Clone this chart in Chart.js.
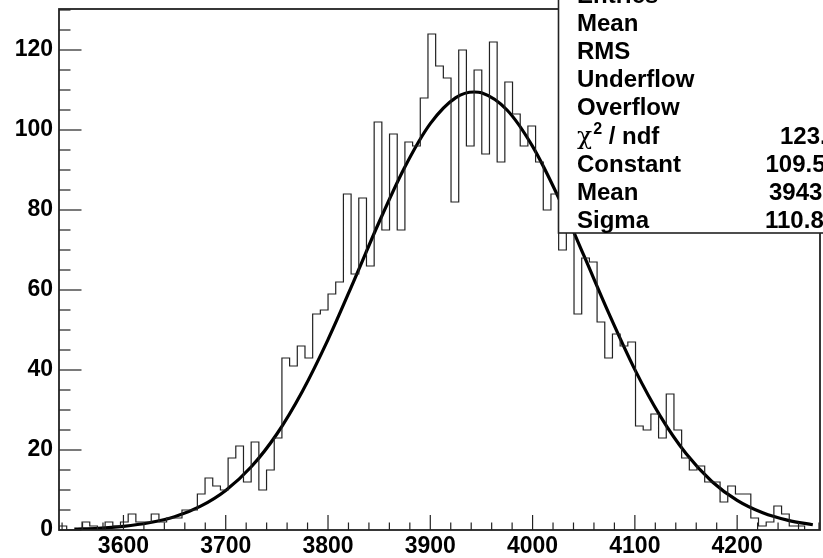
<!DOCTYPE html>
<html>
<head>
<meta charset="utf-8">
<script src="https://cdn.jsdelivr.net/npm/chart.js@4.4.1/dist/chart.umd.min.js"></script>
<style>
  html, body { margin: 0; padding: 0; background: #fff; }
  #wrap { width: 823px; height: 558px; position: relative; }
</style>
</head>
<body>
<div id="wrap"><canvas id="chart"></canvas></div>
<script>
// histogram: 99 bins between xMin and xMax
const xMin = 3537;
const xMax = 4281;
const binCounts = [
  0, 1, 0, 0, 2, 1, 0, 2, 1, 2,
  4, 2, 2, 4, 2, 3, 3, 5, 5, 9,
  13, 11, 10, 18, 21, 12, 22, 10, 15, 23,
  43, 41, 46, 43, 54, 55, 59, 62, 84, 64,
  83, 66, 102, 75, 99, 75, 97, 96, 108, 124,
  116, 113, 82, 120, 96, 115, 94, 122, 92, 112,
  104, 96, 101, 92, 80, 84, 70, 76, 54, 68,
  67, 52, 43, 49, 46, 47, 26, 25, 29, 23,
  34, 25, 18, 15, 16, 12, 12, 7, 11, 9,
  9, 3, 1, 2, 6, 4, 1, 1, 0
];

// gaussian fit curve
const fitX = [3552, 3575, 3600, 3625, 3650, 3675, 3700, 3725, 3750, 3775, 3800, 3825, 3850, 3875, 3900, 3925, 3943,
  3950, 3975, 4000, 4025, 4050, 4075, 4100, 4125, 4150, 4175, 4200, 4225, 4250, 4274];
const fitY = [0.2, 0.4, 0.9, 1.8, 3.3, 5.9, 9.9, 15.8, 24.0, 34.7, 47.6, 62.1, 77.0, 90.7, 101.6, 108.1, 109.5,
  109.3, 105.0, 95.9, 83.3, 68.7, 53.9, 40.1, 28.4, 19.1, 12.2, 7.4, 4.3, 2.4, 1.3];

const yMax = 130.25;
const xTickStep = 100;
const yTickStep = 20;

// stats box (values are cut off by the right edge)
const statLabels = ['Entries', 'Mean', 'RMS', 'Underflow', 'Overflow', 'χ2 / ndf', 'Constant', 'Mean', 'Sigma'];
const statValues = ['', '', '', '', '', '123.4', '109.5', '3943', '110.8'];
const statValueX = [0, 0, 0, 0, 0, 780, 765.5, 769, 765];

const fontFamily = '"Liberation Sans", Arial, Helvetica, sans-serif';

const binWidth = (xMax - xMin) / binCounts.length;
let histPoints = binCounts.map((c, i) => ({x: xMin + i * binWidth, y: c}));
histPoints.push({x: xMax, y: binCounts[binCounts.length - 1]});

const fitPoints = fitX.map((v, i) => ({x: v, y: fitY[i]}));

function line(ctx, x1, y1, x2, y2) {
  ctx.beginPath();
  ctx.moveTo(x1, y1);
  ctx.lineTo(x2, y2);
  ctx.stroke();
}

function noPad(scale) {
  scale.paddingTop = 0;
  scale.paddingBottom = 0;
  scale.paddingLeft = 0;
  scale.paddingRight = 0;
}

const rootFrame = {
  id: 'rootFrame',
  afterDatasetsDraw(chart) {
    const {ctx, chartArea: a, scales} = chart;
    const xs = scales.x, ys = scales.y;
    ctx.save();
    ctx.strokeStyle = '#222';
    ctx.lineWidth = 1.2;
    // x ticks, every 20
    for (let v = Math.ceil(xMin / 20) * 20; v <= xMax; v += 20) {
      const px = xs.getPixelForValue(v);
      const len = v % 100 === 0 ? 15 : 7.5;
      line(ctx, px, a.bottom, px, a.bottom - len);
    }
    // y ticks, every 5
    for (let v = 0; v <= yMax; v += 5) {
      const py = ys.getPixelForValue(v);
      const len = v % 20 === 0 ? 22.5 : 11.5;
      line(ctx, a.left, py, a.left + len, py);
    }
    ctx.lineWidth = 1.8;
    ctx.strokeRect(a.left, a.top, a.right - a.left, a.bottom - a.top);
    ctx.restore();
  },
  afterDraw(chart) {
    const ctx = chart.ctx;
    const left = 558.5, bottom = 233, top = -20, right = 840;
    ctx.save();
    ctx.fillStyle = '#fff';
    ctx.fillRect(left, top, right - left, bottom - top);
    ctx.strokeStyle = '#222';
    ctx.lineWidth = 1.6;
    ctx.strokeRect(left, top, right - left, bottom - top);
    ctx.fillStyle = '#000';
    ctx.textBaseline = 'alphabetic';
    ctx.textAlign = 'left';
    const bold = 'bold 24px ' + fontFamily;
    statLabels.forEach((s, i) => {
      const yb = 2.5 + i * 28.2;
      if (s.startsWith('χ2')) {
        ctx.font = '25px "DejaVu Serif", serif';
        ctx.fillText('χ', 577, yb);
        let xx = 577 + ctx.measureText('χ').width;
        ctx.font = 'bold 16px ' + fontFamily;
        ctx.fillText('2', xx + 1, yb - 10);
        xx += 1 + ctx.measureText('2').width;
        ctx.font = bold;
        ctx.fillText(s.slice(2), xx, yb);
      } else {
        ctx.font = bold;
        ctx.fillText(s, 577, yb);
      }
      ctx.font = bold;
      if (statValues[i]) ctx.fillText(statValues[i], statValueX[i], yb);
    });
    ctx.restore();
  }
};

const tickFont = {family: fontFamily, size: 23, weight: 'bold'};

new Chart(document.getElementById('chart'), {
  type: 'line',
  data: {
    datasets: [
      {
        data: histPoints,
        stepped: 'after',
        borderColor: '#222',
        borderWidth: 1.2,
        pointRadius: 0,
        fill: false
      },
      {
        data: fitPoints,
        borderColor: '#000',
        borderWidth: 3.2,
        pointRadius: 0,
        cubicInterpolationMode: 'monotone',
        fill: false
      }
    ]
  },
  options: {
    responsive: true,
    maintainAspectRatio: false,
    animation: false,
    layout: {padding: {top: 9, right: 3, left: 0, bottom: 0}},
    plugins: {legend: {display: false}, tooltip: {enabled: false}},
    scales: {
      x: {
        type: 'linear',
        min: xMin,
        max: xMax,
        afterFit(scale) { scale.height = 28; noPad(scale); },
        grid: {display: false, drawTicks: false},
        border: {display: false},
        ticks: {stepSize: xTickStep, includeBounds: false, padding: 3, color: '#000', font: tickFont, maxRotation: 0,
          callback: (v) => String(v)}
      },
      y: {
        min: 0,
        max: yMax,
        afterFit(scale) { scale.width = 59; noPad(scale); },
        grid: {display: false, drawTicks: false},
        border: {display: false},
        ticks: {stepSize: yTickStep, includeBounds: false, padding: 6, color: '#000', font: tickFont,
          callback: (v) => String(v)}
      }
    }
  },
  plugins: [rootFrame]
});
</script>
</body>
</html>
